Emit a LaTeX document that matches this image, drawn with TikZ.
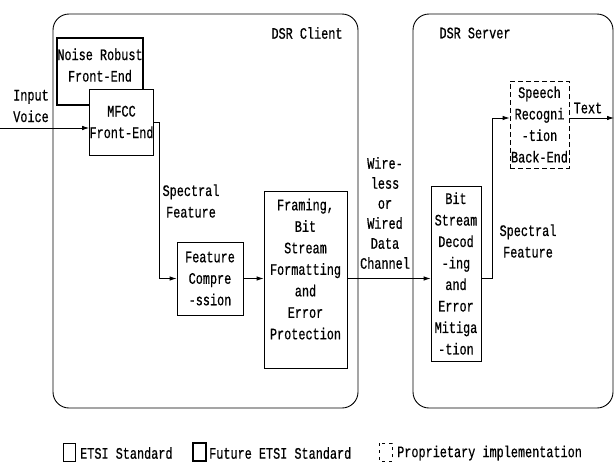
\documentclass[tikz,border=0pt]{standalone}
\usepackage{fontspec}
\setmainfont{Liberation Mono}[FakeStretch=0.74, FakeBold=0.6]
\usetikzlibrary{arrows.meta,calc}
\tikzset{
  lbl/.style={font=\fontsize{16}{21.5}\selectfont, align=center, inner sep=0pt},
  etsi/.style={draw, line width=0.8pt, fill=white, align=center, inner sep=0pt,
    font=\fontsize{16}{21.5}\selectfont},
  future/.style={etsi, line width=1.8pt},
  propr/.style={etsi, dash pattern=on 5pt off 3pt},
  region/.style={draw, line width=0.9pt, rounded corners=16pt},
  flow/.style={draw, line width=0.8pt, -{Latex[length=7pt,width=4.5pt]}},
  legbox/.style={draw, line width=0.6pt}
}
\begin{document}
\begin{tikzpicture}[x=1pt, y=-1pt]
\useasboundingbox (0,0) rectangle (614,464);

% client and server regions
\draw[region] (53,14) rectangle (358,408);
\draw[region] (413,14) rectangle (613,408);
\node[lbl] (client) at (307,33) {DSR Client};
\node[lbl] (server) at (475,33) {DSR Server};

% client blocks
\node[future, minimum width=76pt, minimum height=67pt, text depth=13pt] (noise) at (100,71.5)
  {Noise Robust\\Front-End};
\node[etsi, minimum width=63pt, minimum height=66pt] (mfcc) at (121.5,122)
  {MFCC\\Front-End};
\node[etsi, minimum width=66pt, minimum height=73pt] (fc) at (210,278.5)
  {Feature\\Compre\\-ssion};
\node[etsi, minimum width=83pt, minimum height=177pt, text depth=21pt] (frame) at (305.5,279.5)
  {Framing,\\Bit\\Stream\\Formatting\\and\\Error\\Protection};

% server blocks
\node[etsi, minimum width=50pt, minimum height=175pt] (bsd) at (456,273.5)
  {Bit\\Stream\\Decod\\-ing\\and\\Error\\Mitiga\\-tion};
\node[propr, minimum width=59pt, minimum height=87pt] (srb) at (539.5,124.5)
  {Speech\\Recogni\\-tion\\Back-End};

% free labels
\node[lbl] (invoice) at (31,106) {Input\\Voice};
\node[lbl] (spec1) at (191,201) {Spectral\\Feature};
\node[lbl, font=\fontsize{16}{20}\selectfont] (chan) at (385,213) {Wire-\\less\\or\\Wired\\Data\\Channel};
\node[lbl] (spec2) at (528,241) {Spectral\\Feature};
\node[lbl] (txt) at (588,108) {Text};

% connectors
\coordinate (vin) at (0,128);
\coordinate (tout) at (614,118);
\draw[flow] (vin) -- ($(mfcc.west)+(0,6)$);
\draw[flow] (mfcc.east) -- ++(6,0) |- (fc.west);
\draw[flow] (fc.east) -- (frame.west |- fc.east);
\draw[flow] (frame.east |- fc.east) -- (bsd.west |- fc.east);
\draw[flow] (bsd.east |- fc.east) -- ++(11,0) |- ($(srb.west)+(0,-6.5)$);
\draw[flow] ($(srb.east)+(0,-6.5)$) -- (tout);

% legend
\draw[legbox] (63,443) rectangle (75,461);
\node[lbl, anchor=west] (l1) at (80,453) {ETSI Standard};
\draw[legbox, line width=1.5pt] (193,443) rectangle (206,461);
\node[lbl, anchor=west] (l2) at (209,453) {Future ETSI Standard};
\draw[legbox, dash pattern=on 3pt off 4pt] (379,443) rectangle (392,461);
\node[lbl, anchor=west] (l3) at (397,453) {Proprietary implementation};
\end{tikzpicture}
\end{document}
